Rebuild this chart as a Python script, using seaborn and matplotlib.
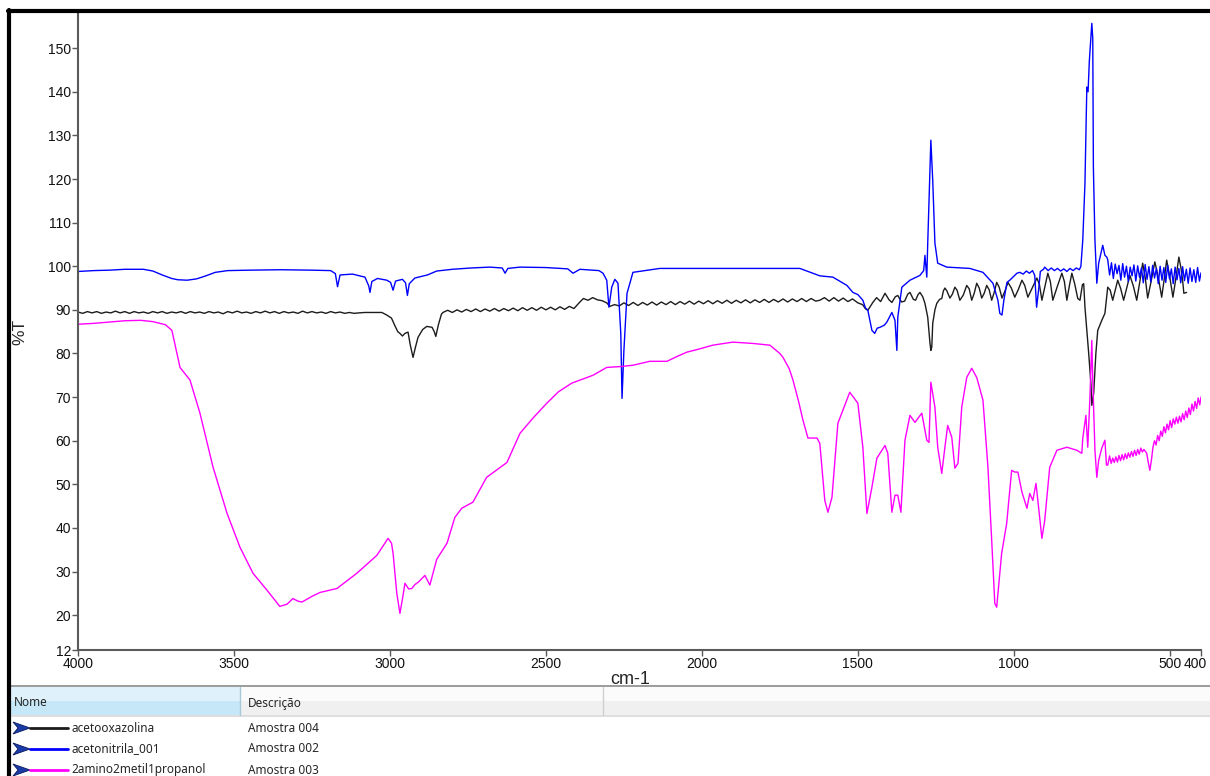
import matplotlib
matplotlib.use("Agg")
import matplotlib.pyplot as plt
import matplotlib.transforms as mtransforms
import seaborn as sns
import pandas as pd
from matplotlib.patches import Rectangle, Polygon
from matplotlib.lines import Line2D

# espectros: (numero de onda cm-1, %T)
acetooxazolina = [
    (4000, 89.5), (3985, 89.2), (3970, 89.6), (3955, 89.3), (3940, 89.6), (3925, 89.2),
    (3910, 89.5), (3895, 89.3), (3880, 89.7), (3865, 89.3), (3850, 89.6), (3835, 89.2),
    (3820, 89.6), (3805, 89.3), (3790, 89.5), (3775, 89.2), (3760, 89.6), (3745, 89.3),
    (3730, 89.6), (3715, 89.2), (3700, 89.5), (3685, 89.3), (3670, 89.6), (3655, 89.2),
    (3640, 89.6), (3625, 89.3), (3610, 89.5), (3595, 89.2), (3580, 89.6), (3565, 89.3),
    (3550, 89.5), (3535, 89.1), (3520, 89.6), (3505, 89.3), (3490, 89.7), (3475, 89.3),
    (3460, 89.5), (3445, 89.2), (3430, 89.6), (3415, 89.3), (3400, 89.7), (3385, 89.3),
    (3370, 89.6), (3355, 89.2), (3340, 89.6), (3325, 89.3), (3310, 89.5), (3295, 89.2),
    (3280, 89.7), (3265, 89.3), (3250, 89.6), (3235, 89.3), (3220, 89.5), (3205, 89.2),
    (3190, 89.6), (3175, 89.3), (3160, 89.5), (3145, 89.2), (3130, 89.4), (3115, 89.2),
    (3100, 89.3), (3080, 89.4), (3060, 89.4), (3040, 89.4), (3026, 89.4),
    (3010, 88.8), (2995, 88.1), (2985, 86.5), (2975, 85.0), (2968, 84.6), (2960, 84.0),
    (2952, 84.6), (2942, 84.9), (2935, 82.0), (2926, 79.1), (2918, 81.5), (2910, 83.7),
    (2895, 85.5), (2882, 86.2), (2865, 86.0), (2858, 85.0), (2853, 83.9), (2845, 86.5),
    (2835, 89.0), (2830, 89.4),
    (2815, 89.9), (2800, 89.4), (2785, 90.0), (2770, 89.5), (2755, 90.1), (2740, 89.6),
    (2725, 90.2), (2710, 89.6), (2695, 90.2), (2680, 89.7), (2665, 90.3), (2650, 89.7),
    (2635, 90.3), (2620, 89.8), (2605, 90.4), (2590, 89.8), (2575, 90.5), (2560, 89.9),
    (2545, 90.5), (2530, 89.9), (2515, 90.6), (2500, 90.0), (2485, 90.6), (2470, 90.0),
    (2455, 90.7), (2440, 90.1), (2425, 90.8), (2410, 90.3), (2395, 91.5), (2380, 92.6),
    (2365, 92.2), (2350, 92.8), (2335, 92.3), (2320, 92.1), (2305, 91.6), (2295, 90.8),
    (2280, 91.2), (2265, 90.9), (2250, 91.6), (2235, 91.0), (2220, 91.7), (2205, 91.0),
    (2190, 91.7), (2175, 91.1), (2160, 91.8), (2145, 91.1), (2130, 91.8), (2115, 91.2),
    (2100, 91.9), (2085, 91.2), (2070, 91.9), (2055, 91.3), (2040, 92.0), (2025, 91.3),
    (2010, 92.0), (1995, 91.4), (1980, 92.1), (1965, 91.4), (1950, 92.1), (1935, 91.5),
    (1920, 92.2), (1905, 91.5), (1890, 92.2), (1875, 91.6), (1860, 92.3), (1845, 91.6),
    (1830, 92.3), (1815, 91.7), (1800, 92.4), (1785, 91.7), (1770, 92.4), (1755, 91.8),
    (1740, 92.5), (1725, 91.8), (1710, 92.5), (1695, 91.9), (1680, 92.6), (1665, 91.9),
    (1650, 92.6), (1635, 92.0),
    (1622, 92.2), (1607, 92.8), (1592, 92.0), (1577, 92.8), (1562, 92.0), (1547, 92.7),
    (1532, 91.9), (1517, 92.5), (1500, 91.6), (1485, 91.2), (1475, 90.2), (1468, 89.9),
    (1460, 90.8), (1452, 91.7), (1440, 92.8), (1427, 91.9), (1413, 93.8), (1400, 92.3),
    (1391, 91.7), (1380, 93.0), (1372, 93.3), (1360, 91.8), (1350, 92.0), (1340, 93.6),
    (1333, 94.0), (1322, 92.4), (1315, 92.2), (1307, 93.5), (1301, 94.0), (1292, 93.0),
    (1285, 91.5), (1276, 88.3), (1269, 82.5), (1266, 80.7), (1263, 81.5), (1260, 86.9),
    (1253, 90.0), (1247, 91.5), (1238, 92.4), (1231, 92.6), (1226, 94.3), (1221, 95.0),
    (1215, 94.4), (1205, 92.7), (1197, 93.6), (1189, 95.2), (1182, 94.5), (1173, 92.2),
    (1162, 93.4), (1151, 95.6), (1143, 94.8), (1135, 92.2), (1127, 93.8), (1119, 96.1),
    (1111, 95.0), (1103, 92.7), (1095, 93.8), (1087, 95.6), (1079, 94.6), (1071, 92.2),
    (1063, 94.0), (1055, 96.3), (1047, 95.2), (1038, 92.7), (1028, 94.4), (1019, 96.3),
    (1008, 95.0), (997, 92.9), (986, 94.6), (974, 96.8), (965, 95.6), (955, 92.9),
    (940, 95.2), (926, 97.3), (918, 95.8), (910, 92.2), (900, 95.5), (891, 98.4),
    (883, 96.5), (875, 92.2), (860, 95.5), (846, 98.4), (838, 96.5), (830, 92.2),
    (822, 95.5), (814, 98.4), (805, 96.0), (795, 92.6), (788, 92.2), (780, 95.8),
    (776, 96.0), (772, 90.6), (766, 85.3), (760, 80.0), (753, 73.2), (750, 68.1),
    (744, 70.9), (737, 80.0), (731, 85.3), (718, 87.6), (708, 89.2), (699, 95.2),
    (691, 94.5), (683, 92.2), (675, 94.5), (667, 96.8), (658, 95.0), (648, 92.2),
    (638, 95.0), (628, 97.9), (617, 95.5), (606, 92.2), (596, 96.5), (587, 100.7),
    (579, 97.5), (571, 92.7), (560, 96.5), (548, 101.0), (537, 97.5), (526, 92.9),
    (518, 97.0), (510, 101.4), (500, 97.5), (490, 92.9), (480, 97.5), (471, 102.1),
    (464, 99.5), (458, 96.1), (455, 93.8), (446, 94.0),
]

acetonitrila_001 = [
    (4000, 98.8), (3950, 99.0), (3900, 99.1), (3850, 99.3), (3790, 99.3), (3760, 98.9),
    (3730, 98.0), (3700, 97.2), (3680, 96.9), (3650, 96.8), (3620, 97.1), (3590, 97.8),
    (3560, 98.6), (3520, 99.0), (3450, 99.1), (3350, 99.2), (3250, 99.1), (3190, 99.0),
    (3175, 98.3), (3168, 95.3), (3160, 98.0), (3120, 98.2), (3080, 97.5), (3068, 95.5),
    (3064, 94.0), (3058, 96.5), (3040, 97.2), (3010, 96.8), (2998, 96.3), (2990, 94.5),
    (2982, 96.6), (2960, 97.0), (2950, 96.2), (2944, 93.3), (2938, 96.0), (2920, 97.3),
    (2880, 98.0), (2850, 98.9), (2800, 99.3), (2740, 99.6), (2680, 99.8), (2640, 99.6),
    (2631, 98.4), (2622, 99.5), (2583, 99.8), (2500, 99.7), (2430, 99.4), (2413, 98.4),
    (2391, 99.3), (2330, 99.0), (2317, 98.4), (2305, 96.8), (2298, 90.6), (2289, 95.2),
    (2279, 97.0), (2269, 96.1), (2260, 84.6), (2256, 69.7), (2250, 80.7), (2240, 93.8),
    (2221, 98.6), (2135, 99.5), (1814, 99.5), (1686, 99.5), (1644, 98.4), (1622, 97.8),
    (1580, 97.5), (1535, 95.6), (1516, 94.0), (1500, 93.5), (1484, 92.2), (1476, 90.5),
    (1468, 89.9), (1460, 87.0), (1455, 85.3), (1446, 84.6), (1438, 85.8), (1429, 86.0),
    (1415, 86.5), (1407, 87.2), (1391, 89.4), (1381, 87.6), (1375, 80.7), (1372, 88.3),
    (1359, 95.2), (1333, 96.8), (1301, 97.9), (1289, 99.0), (1285, 102.5), (1279, 97.5),
    (1276, 105.3), (1269, 121.3), (1266, 128.9), (1260, 119.7), (1253, 105.3), (1244, 100.7),
    (1215, 99.8), (1141, 99.5), (1099, 98.6), (1067, 96.1), (1051, 92.2), (1045, 89.2),
    (1038, 88.8), (1032, 92.2), (1022, 96.3), (1013, 96.8), (990, 98.4), (981, 98.6),
    (970, 98.2), (960, 98.9), (950, 98.4), (940, 99.0), (933, 97.9), (927, 90.6),
    (920, 95.0), (915, 98.8), (905, 99.3), (901, 99.8), (890, 99.0), (880, 99.6),
    (870, 99.0), (860, 99.5), (850, 98.9), (840, 99.4), (830, 98.8), (820, 99.5),
    (810, 99.0), (800, 99.6), (790, 99.2), (785, 100.0), (779, 106.0), (772, 119.0),
    (769, 130.5), (766, 141.1), (762, 140.0), (758, 147.0), (750, 155.7), (747, 152.3),
    (745, 122.7), (740, 106.0), (734, 96.1), (728, 100.7), (715, 104.8), (708, 102.5),
    (702, 102.1),
    (699, 101.5), (693, 98.0), (687, 100.8), (681, 97.2), (675, 100.5), (669, 98.3),
    (663, 100.2), (657, 96.8), (651, 100.6), (645, 97.5), (639, 100.0), (633, 96.5),
    (627, 99.8), (621, 97.8), (615, 100.3), (609, 96.6), (603, 100.1), (597, 97.4),
    (591, 99.6), (585, 96.2), (579, 100.4), (573, 97.0), (567, 99.9), (561, 96.4),
    (555, 100.2), (549, 97.3), (543, 99.5), (537, 96.0), (531, 100.0), (525, 96.8),
    (519, 99.7), (513, 96.3), (507, 100.2), (501, 97.1), (495, 99.4), (489, 96.0),
    (483, 99.8), (477, 96.9), (471, 99.5), (465, 96.2), (459, 99.9), (453, 96.7),
    (447, 99.3), (441, 96.1), (435, 99.6), (429, 96.5), (423, 99.2), (417, 96.3),
    (411, 99.7), (405, 96.6), (400, 98.5),
]

amino_propanol = [
    (4000, 86.7), (3950, 86.9), (3900, 87.2), (3850, 87.5), (3800, 87.6), (3760, 87.3),
    (3720, 86.6), (3699, 85.3), (3673, 76.8), (3641, 73.9), (3609, 66.3), (3567, 53.9),
    (3522, 43.3), (3481, 35.6), (3439, 29.6), (3394, 25.7), (3353, 22.0), (3330, 22.5),
    (3311, 23.8), (3295, 23.2), (3282, 23.0), (3250, 24.3), (3224, 25.2), (3170, 26.1),
    (3106, 29.6), (3042, 33.7), (3006, 37.6), (2995, 36.5), (2990, 34.2), (2978, 25.0),
    (2968, 20.4), (2958, 24.5), (2952, 27.3), (2940, 26.0), (2930, 26.1), (2920, 27.0),
    (2910, 27.5), (2888, 29.1), (2872, 26.9), (2850, 32.8), (2817, 36.5), (2792, 42.4),
    (2770, 44.5), (2734, 45.9), (2690, 51.6), (2625, 55.0), (2583, 61.7), (2540, 65.3),
    (2497, 68.6), (2460, 71.2), (2417, 73.2), (2349, 75.0), (2305, 76.8), (2260, 77.0),
    (2221, 77.3), (2167, 78.2), (2112, 78.2), (2080, 79.3), (2048, 80.3), (2010, 81.0),
    (1965, 81.9), (1901, 82.6), (1837, 82.3), (1782, 81.9), (1750, 80.0), (1740, 79.1),
    (1720, 76.5), (1708, 73.9), (1690, 69.0), (1676, 64.7), (1660, 60.6), (1631, 60.6),
    (1622, 59.4), (1606, 46.3), (1596, 43.6), (1583, 47.0), (1564, 64.0), (1526, 71.1),
    (1500, 68.6), (1484, 58.5), (1471, 43.3), (1455, 49.3), (1439, 56.0), (1413, 58.9),
    (1404, 57.1), (1391, 43.6), (1381, 47.5), (1372, 47.5), (1362, 43.6), (1349, 60.1),
    (1333, 65.8), (1317, 64.2), (1295, 66.3), (1279, 60.1), (1272, 59.6), (1266, 73.4),
    (1253, 67.7), (1244, 58.5), (1231, 52.5), (1221, 58.5), (1212, 63.5), (1199, 60.8),
    (1189, 53.7), (1179, 54.8), (1167, 67.7), (1151, 74.5), (1135, 76.6), (1119, 74.5),
    (1099, 69.3), (1083, 53.9), (1071, 37.2), (1061, 22.7), (1055, 21.8), (1039, 34.2),
    (1023, 41.0), (1007, 53.2), (997, 52.8), (987, 52.8), (974, 48.2), (958, 44.5),
    (949, 47.9), (939, 46.3), (929, 50.2), (923, 46.3), (910, 37.6), (901, 41.7),
    (885, 53.9), (862, 57.8), (830, 58.5), (798, 57.8), (782, 57.1), (779, 60.6),
    (769, 65.8), (763, 58.5), (756, 70.0), (750, 83.0), (747, 73.9), (740, 57.8),
    (734, 51.6), (728, 55.5), (718, 58.3), (708, 60.1), (703, 54.4),
    (699, 54.4), (693, 56.5), (688, 54.8), (683, 56.0), (678, 55.0), (673, 56.3),
    (668, 55.1), (663, 56.6), (658, 55.4), (653, 56.8), (648, 55.6), (643, 57.0),
    (638, 55.9), (633, 57.2), (628, 56.2), (623, 57.5), (618, 56.4), (613, 57.8),
    (608, 56.6), (603, 58.0), (598, 56.9), (593, 58.3), (588, 57.4), (583, 58.0),
    (578, 57.5), (574, 57.1), (569, 55.0), (564, 53.2), (559, 55.5), (554, 58.5),
    (549, 60.0), (544, 59.0), (539, 61.2), (534, 60.0), (529, 62.2), (524, 61.0),
    (519, 63.2), (514, 61.8), (509, 63.8), (504, 62.5), (499, 64.6), (494, 63.0),
    (489, 65.0), (484, 63.8), (479, 65.4), (474, 64.0), (469, 65.6), (464, 64.3),
    (459, 66.2), (454, 64.8), (449, 66.8), (444, 65.3), (439, 67.5), (434, 66.0),
    (429, 68.4), (424, 66.8), (419, 69.0), (414, 67.4), (409, 69.8), (404, 68.2),
    (400, 70.0),
]

nomes = ["acetooxazolina", "acetonitrila_001", "2amino2metil1propanol"]
descricoes = ["Amostra 004", "Amostra 002", "Amostra 003"]
cores = {"acetooxazolina": "#1c1c1c", "acetonitrila_001": "#0000ff",
         "2amino2metil1propanol": "#ff00ff"}

partes = []
for nome, pts in zip(nomes, [acetooxazolina, acetonitrila_001, amino_propanol]):
    d = pd.DataFrame(pts, columns=["cm-1", "%T"])
    d["amostra"] = nome
    partes.append(d)
df = pd.concat(partes, ignore_index=True)

sns.set_theme(style="white")
plt.rcParams["font.family"] = ["Liberation Sans", "DejaVu Sans"]

W, H = 1210, 776
fig = plt.figure(figsize=(W / 100, H / 100), dpi=100)
ax = fig.add_axes([78 / W, 1 - 650 / H, (1201 - 78) / W, (650 - 12) / H])

sns.lineplot(data=df, x="cm-1", y="%T", hue="amostra", palette=cores,
             estimator=None, sort=False, linewidth=1.0, legend=False, ax=ax)

ax.set_xlim(4000, 400)
ax.set_ylim(12, 158.3)
ax.set_xticks([4000, 3500, 3000, 2500, 2000, 1500, 1000, 500, 400])
ax.set_xticklabels(["4000", "3500", "3000", "2500", "2000", "1500", "1000", "500", "400"])
ax.set_yticks([12] + list(range(20, 151, 10)))
ax.set_xlabel("")
ax.set_ylabel("")
for s in ["top", "right"]:
    ax.spines[s].set_visible(False)
for s in ["left", "bottom"]:
    ax.spines[s].set_color("#5a5a5a")
    ax.spines[s].set_linewidth(1.5)
ax.tick_params(axis="both", direction="out", length=4, width=1, color="#5a5a5a",
               labelsize=10, labelcolor="#111111", pad=1)
ax.tick_params(axis="y", left=True)
ax.tick_params(axis="x", bottom=True)

# o rotulo 400 fica colado na borda: puxa uns pixels para dentro
ultimo = ax.get_xticklabels()[-1]
ultimo.set_transform(ultimo.get_transform() +
                     mtransforms.ScaledTranslation(-6 / 100, 0, fig.dpi_scale_trans))

fig.text(20 / W, 1 - 332 / H, "%T", rotation=90, ha="center", va="center", fontsize=12.5)
fig.text(630 / W, 1 - 680 / H, "cm-1", ha="center", va="center", fontsize=13)


def fx(x):
    return x / W


def fy(y):
    return 1 - y / H


def caixa(x0, y0, x1, y1, cor, borda="none"):
    fig.add_artist(Rectangle((fx(x0), fy(y1)), fx(x1) - fx(x0), fy(y0) - fy(y1),
                             transform=fig.transFigure, facecolor=cor,
                             edgecolor=borda, linewidth=0.8))


def linha(xs, ys, cor, lw):
    fig.add_artist(Line2D([fx(v) for v in xs], [fy(v) for v in ys],
                          transform=fig.transFigure, color=cor, linewidth=lw))


# tabela de amostras abaixo do grafico
caixa(8, 686, W, 776, "white")
caixa(8, 687, W, 701, "#fbfbfb")
caixa(8, 701, W, 715, "#f0f0f0")
caixa(10, 687, 240, 701, "#dff2fc")
caixa(10, 701, 240, 715, "#c6e7f8")
linha([8, W], [686, 686], "#8a8a8a", 1.2)
linha([8, W], [715.5, 715.5], "#d8d8d8", 1.2)
linha([240, 240], [687, 715], "#a8c8dc", 1)
linha([603, 603], [687, 715], "#d0d0d0", 1)

fonte_tab = ["Noto Sans", "DejaVu Sans"]
fig.text(fx(14), fy(703), "Nome", ha="left", va="center", fontsize=8.5, family=fonte_tab)
fig.text(fx(248), fy(703), "Descrição", ha="left", va="center", fontsize=8.5, family=fonte_tab)

for i, (nome, desc) in enumerate(zip(nomes, descricoes)):
    yc = 728 + 21 * i
    fig.add_artist(Polygon([(fx(13), fy(yc - 6)), (fx(30), fy(yc)), (fx(13), fy(yc + 6)),
                            (fx(18), fy(yc))], closed=True, transform=fig.transFigure,
                           facecolor="#1a3aa8", edgecolor="#0a1a60", linewidth=0.6))
    linha([30, 68], [yc, yc], cores[nome], 2)
    fig.text(fx(71), fy(yc), nome, ha="left", va="center", fontsize=8.5, family=fonte_tab)
    fig.text(fx(248), fy(yc), desc, ha="left", va="center", fontsize=8.5, family=fonte_tab)

# moldura da janela
linha([8, W], [10.5, 10.5], "black", 3)
linha([9, 9], [10, H], "black", 3)

fig.savefig("out.png", dpi=100)
